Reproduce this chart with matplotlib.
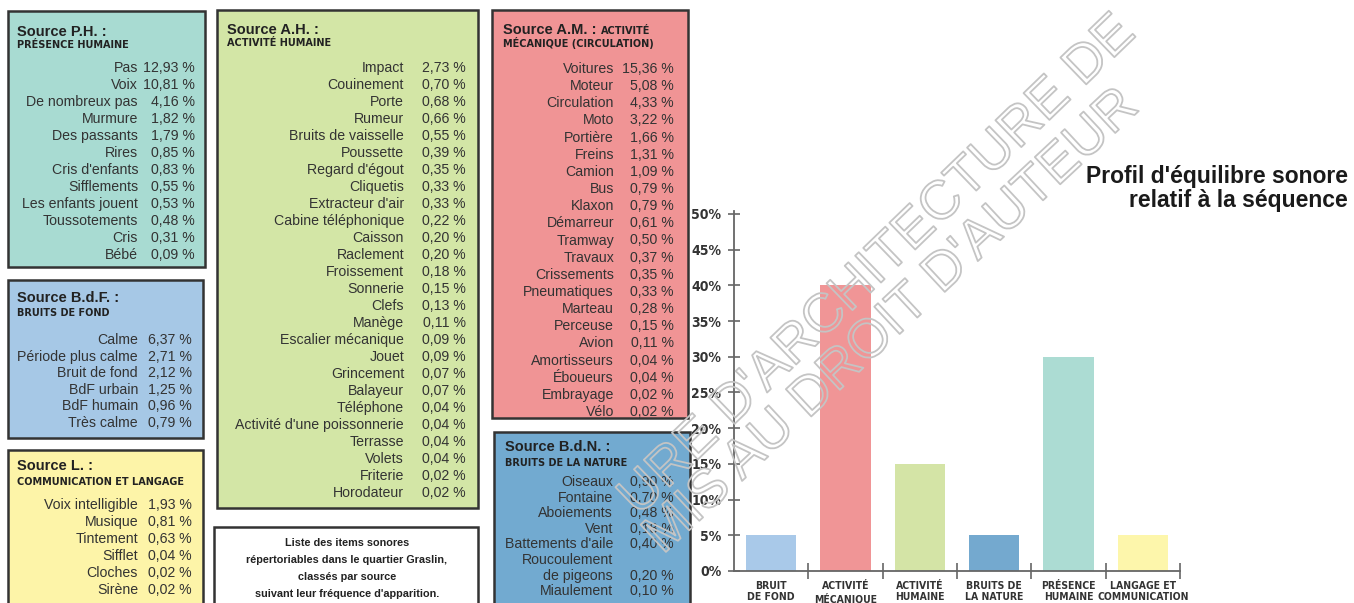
import matplotlib
matplotlib.use('Agg')
import matplotlib.pyplot as plt
from matplotlib import font_manager, patheffects
from matplotlib.patches import Rectangle
from matplotlib.font_manager import FontProperties

# ---- data ----
ph_labels = ['Pas', 'Voix', 'De nombreux pas', 'Murmure', 'Des passants', 'Rires', "Cris d'enfants",
             'Sifflements', 'Les enfants jouent', 'Toussotements', 'Cris', 'Bébé']
ph_values = [12.93, 10.81, 4.16, 1.82, 1.79, 0.85, 0.83, 0.55, 0.53, 0.48, 0.31, 0.09]

bdf_labels = ['Calme', 'Période plus calme', 'Bruit de fond', 'BdF urbain', 'BdF humain', 'Très calme']
bdf_values = [6.37, 2.71, 2.12, 1.25, 0.96, 0.79]

l_labels = ['Voix intelligible', 'Musique', 'Tintement', 'Sifflet', 'Cloches', 'Sirène']
l_values = [1.93, 0.81, 0.63, 0.04, 0.02, 0.02]

ah_labels = ['Impact', 'Couinement', 'Porte', 'Rumeur', 'Bruits de vaisselle', 'Poussette', "Regard d'égout",
             'Cliquetis', "Extracteur d'air", 'Cabine téléphonique', 'Caisson', 'Raclement', 'Froissement',
             'Sonnerie', 'Clefs', 'Manège', 'Escalier mécanique', 'Jouet', 'Grincement', 'Balayeur',
             'Téléphone', "Activité d'une poissonnerie", 'Terrasse', 'Volets', 'Friterie', 'Horodateur']
ah_values = [2.73, 0.70, 0.68, 0.66, 0.55, 0.39, 0.35, 0.33, 0.33, 0.22, 0.20, 0.20, 0.18,
             0.15, 0.13, 0.11, 0.09, 0.09, 0.07, 0.07, 0.04, 0.04, 0.04, 0.04, 0.02, 0.02]

am_labels = ['Voitures', 'Moteur', 'Circulation', 'Moto', 'Portière', 'Freins', 'Camion', 'Bus', 'Klaxon',
             'Démarreur', 'Tramway', 'Travaux', 'Crissements', 'Pneumatiques', 'Marteau', 'Perceuse',
             'Avion', 'Amortisseurs', 'Éboueurs', 'Embrayage', 'Vélo']
am_values = [15.36, 5.08, 4.33, 3.22, 1.66, 1.31, 1.09, 0.79, 0.79, 0.61, 0.50, 0.37, 0.35, 0.33,
             0.28, 0.15, 0.11, 0.04, 0.04, 0.02, 0.02]

bdn_labels = ['Oiseaux', 'Fontaine', 'Aboiements', 'Vent', "Battements d'aile", 'Roucoulement\nde pigeons',
              'Miaulement']
bdn_values = [0.90, 0.70, 0.48, 0.18, 0.40, 0.20, 0.10]

categories = ['BRUIT\nDE FOND', 'ACTIVITÉ\nMÉCANIQUE', 'ACTIVITÉ\nHUMAINE', 'BRUITS DE\nLA NATURE',
              'PRÉSENCE\nHUMAINE', 'LANGAGE ET\nCOMMUNICATION']
shares = [5, 40, 15, 5, 30, 5]
bar_colors = ['#a9c9e9', '#f09596', '#d4e4a6', '#74a9cf', '#acdcd3', '#fdf6ab']
y_ticks = [0, 5, 10, 15, 20, 25, 30, 35, 40, 45, 50]

caption = ['Liste des items sonores', 'répertoriables dans le quartier Graslin,', 'classés par source',
           "suivant leur fréquence d'apparition."]

W, H = 1354, 603
SANS = 'Liberation Sans'
TXT = '#333333'


def condensed_bold(size):
    # a narrow bold face if one is installed, plain bold otherwise
    cands = [f for f in font_manager.fontManager.ttflist
             if ('Condensed' in f.name or 'Narrow' in f.name
                 or f.stretch in ('condensed', 'semi-condensed', 'extra-condensed'))
             and (f.weight in ('bold', 700, 'heavy') or (isinstance(f.weight, int) and f.weight >= 600))
             and f.style == 'normal']
    if cands:
        return FontProperties(fname=cands[0].fname, size=size)
    return FontProperties(family=SANS, weight='bold', size=size - 1.5)


fig = plt.figure(figsize=(W / 100, H / 100), dpi=100)
fig.patch.set_facecolor('white')


def fx(x):
    return x / W


def fy(y):
    return 1 - y / H


def fmt(v):
    return ('%.2f' % v).replace('.', ',') + ' %'


def box(x0, y0, x1, y1, color):
    fig.add_artist(Rectangle((fx(x0), fy(y1)), (x1 - x0) / W, (y1 - y0) / H, transform=fig.transFigure,
                             facecolor=color, edgecolor='#333333', linewidth=1.8, zorder=1))


def source_box(rect, color, title, subtitle, labels, values, lab_right, val_right, row_top, row_step,
               title_x, title_y, sub_y, title_tail=None):
    box(*rect, color)
    t = fig.text(fx(title_x), fy(title_y), title, ha='left', va='center', fontsize=10.5, weight='bold',
                 family=SANS, color='#222222', zorder=5)
    if title_tail:
        fig.canvas.draw()
        bb = t.get_window_extent()
        fig.text(bb.x1 / W, fy(title_y + 1), title_tail, ha='left', va='center', fontsize=7, weight='bold',
                 family='DejaVu Sans', color='#222222', zorder=5)
    fig.text(fx(title_x), fy(sub_y), subtitle, ha='left', va='center', fontsize=7, weight='bold',
             family='DejaVu Sans', color='#222222', zorder=5)
    line = 0
    for lab, val in zip(labels, values):
        parts = lab.split('\n')
        for p in parts:
            fig.text(fx(lab_right), fy(row_top + line * row_step), p, ha='right', va='center', fontsize=10.2,
                     family=SANS, color=TXT, zorder=5)
            line += 1
        fig.text(fx(val_right), fy(row_top + (line - 1) * row_step), fmt(val), ha='right', va='center',
                 fontsize=10.2, family=SANS, color=TXT, zorder=5)


source_box((8, 11, 205, 267), '#a8dbd2', 'Source P.H. :', 'PRÉSENCE HUMAINE', ph_labels, ph_values,
           138, 195, 68, 17.0, 17, 32, 45)
source_box((8, 280, 203, 438), '#a6c8e6', 'Source B.d.F. :', 'BRUITS DE FOND', bdf_labels, bdf_values,
           138, 192, 340, 16.6, 17, 298, 313)
source_box((8, 450, 203, 640), '#fdf4a8', 'Source L. :', 'COMMUNICATION ET LANGAGE', l_labels, l_values,
           138, 192, 505, 17.0, 17, 466, 482)
source_box((217, 10, 478, 508), '#d3e6a6', 'Source A.H. :', 'ACTIVITÉ HUMAINE', ah_labels, ah_values,
           404, 466, 68, 17.0, 227, 30, 43)
source_box((492, 10, 688, 418), '#f09495', 'Source A.M. : ', 'MÉCANIQUE (CIRCULATION)', am_labels, am_values,
           614, 674, 69, 17.15, 503, 30, 43, title_tail='ACTIVITÉ')
source_box((494, 432, 690, 640), '#72aad0', 'Source B.d.N. :', 'BRUITS DE LA NATURE', bdn_labels, bdn_values,
           613, 674, 482, 15.6, 505, 447, 463)

# caption box
box(214, 527, 478, 640, 'white')
for i, c in enumerate(caption):
    fig.text(fx(347), fy(543 + i * 17), c, ha='center', va='center', fontsize=7.8, weight='bold',
             family=SANS, color='#222222', zorder=5)

# ---- bar chart ----
x0, x1, yb, yt = 734, 1180, 571, 211
ax = fig.add_axes([fx(x0), fy(yb), (x1 - x0) / W, (yb - yt) / H])
ax.set_facecolor('none')
ax.bar(range(len(shares)), shares, width=0.68, color=bar_colors, edgecolor='none', zorder=2)
ax.set_xlim(-0.5, len(shares) - 0.5)
ax.set_ylim(0, 50.4)
for s in ['top', 'right']:
    ax.spines[s].set_visible(False)
for s in ['left', 'bottom']:
    ax.spines[s].set_color('#666666')
    ax.spines[s].set_linewidth(1.3)
ax.set_yticks(y_ticks)
ax.set_yticklabels(['%d%%' % v for v in y_ticks], fontproperties=condensed_bold(10), color=TXT)
ax.tick_params(axis='y', direction='inout', length=8, width=1.2, color='#666666', pad=5)
ax.set_xticks([i + 0.5 for i in range(len(shares))])
ax.set_xticklabels([])
ax.tick_params(axis='x', which='major', direction='inout', length=12, width=1.2, color='#666666')
ax.set_xticks(range(len(shares)), minor=True)
ax.set_xticklabels(categories, minor=True, fontproperties=condensed_bold(7.5), color=TXT, linespacing=1.2)
ax.tick_params(axis='x', which='minor', length=0, pad=7)

fig.text(fx(1348), fy(176), "Profil d'équilibre sonore", ha='right', va='center', fontsize=16.5,
         weight='bold', family=SANS, color='#1a1a1a')
fig.text(fx(1348), fy(201), 'relatif à la séquence', ha='right', va='center', fontsize=16.5,
         weight='bold', family=SANS, color='#1a1a1a')

# ---- watermark: hollow letters ----
outline = [patheffects.Stroke(linewidth=1.3, foreground='#c4c4c4')]
fig.text(fx(878), fy(266), "URE D'ARCHITECTURE DE", ha='center', va='center', rotation=44,
         rotation_mode='anchor', fontsize=39, family=SANS, color='none', path_effects=outline, zorder=20)
fig.text(fx(892), fy(322), "MIS AU DROIT D'AUTEUR", ha='center', va='center', rotation=43,
         rotation_mode='anchor', fontsize=39, family=SANS, color='none', path_effects=outline, zorder=20)

fig.savefig('out.png', dpi=100)
